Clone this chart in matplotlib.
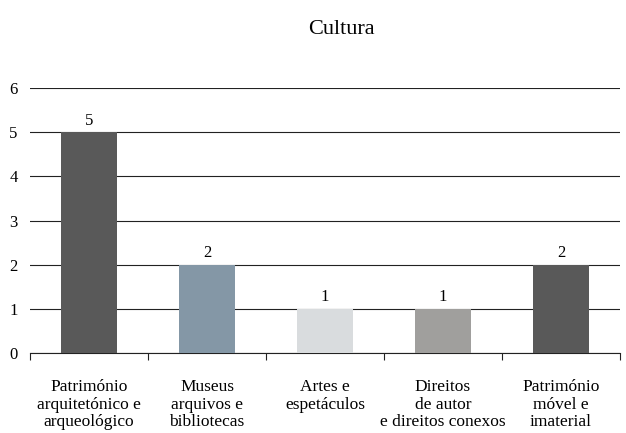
import matplotlib
matplotlib.use("Agg")
import matplotlib.pyplot as plt
import numpy as np

categories = ["Património\narquitetónico e\narqueológico",
              "Museus\narquivos e\nbibliotecas",
              "Artes e\nespetáculos",
              "Direitos\nde autor\ne direitos conexos",
              "Património\nmóvel e\nimaterial"]
values = [5, 2, 1, 1, 2]
colors = ["#595959", "#8497a6", "#d9dcde", "#a09f9d", "#595959"]
title = "Cultura"
yticks = [0, 1, 2, 3, 4, 5, 6]

plt.rcParams['font.family'] = ['Liberation Serif', 'DejaVu Serif']

fig = plt.figure(figsize=(6.26, 4.33), dpi=100)
ax = fig.add_axes([30/626, 1-353/433, 590/626, 265/433])

x = np.arange(len(categories))
bars = ax.bar(x, values, width=0.48, color=colors, zorder=3)
for xi, v in zip(x, values):
    ax.text(xi, v + 0.08, str(v), ha="center", va="bottom", fontsize=12)

ax.set_xlim(-0.5, len(categories) - 0.5)
ax.set_ylim(0, 6)
ax.set_yticks(yticks)
ax.set_yticklabels([str(t) for t in yticks], fontsize=12)
ax.yaxis.grid(True, color="#222222", linewidth=0.8, zorder=0)
ax.tick_params(axis="y", length=0, pad=9)

ax.set_xticks(np.arange(-0.5, len(categories), 1.0))
ax.set_xticklabels([])
ax.set_xticks(x, minor=True)
ax.set_xticklabels(categories, minor=True, fontsize=12.5, linespacing=1.1)
ax.tick_params(axis="x", which="major", length=5, direction="out", color="#222222")
ax.tick_params(axis="x", which="minor", length=0, pad=19)

for s in ["top", "right", "left"]:
    ax.spines[s].set_visible(False)
ax.spines["bottom"].set_color("#222222")
ax.spines["bottom"].set_linewidth(0.8)

fig.text(341/626, 1-30/433, title, ha="center", va="center", fontsize=16)

fig.savefig("out.png", dpi=100)
